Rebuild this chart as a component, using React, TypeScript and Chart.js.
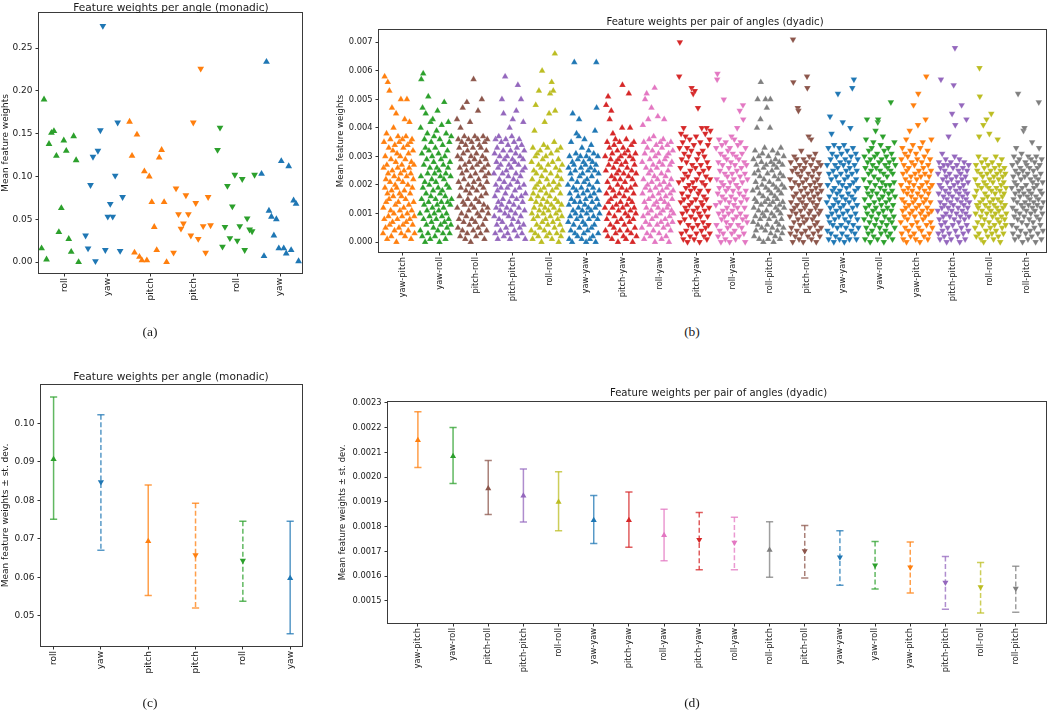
import React, { useEffect, useRef } from 'react';
import { Chart, registerables } from 'chart.js';

Chart.register(...registerables);
Chart.defaults.font.family = "'DejaVu Sans', sans-serif";
Chart.defaults.color = '#1a1a1a';

const C = {
  blue: '#1f77b4', orange: '#ff7f0e', green: '#2ca02c', red: '#d62728', purple: '#9467bd',
  brown: '#8c564b', pink: '#e377c2', gray: '#7f7f7f', olive: '#bcbd22',
};

// ---------- monadic (a) / (c) ----------
const monadicLabels = ['roll', 'yaw', 'pitch', 'pitch', 'roll', 'yaw'];
const monadicColors = [C.green, C.blue, C.orange, C.orange, C.green, C.blue];
const monadicDown = [false, true, false, true, true, false];

const aRollUp = [0.016, 0.190, 0.003, 0.138, 0.151, 0.153, 0.124, 0.035, 0.063, 0.142, 0.130, 0.027, 0.012, 0.147, 0.119, 0.000];
const aYawDown = [0.031, 0.016, 0.090, 0.123, 0.001, 0.130, 0.154, 0.276, 0.014, 0.053, 0.068, 0.053, 0.101, 0.163, 0.013, 0.076];
const aPitchUp = [0.164, 0.124, 0.011, 0.149, 0.006, 0.002, 0.106, 0.002, 0.100, 0.070, 0.041, 0.014, 0.122, 0.131, 0.070, 0.000];
const aPitchDown = [0.011, 0.086, 0.056, 0.039, 0.045, 0.078, 0.056, 0.031, 0.163, 0.069, 0.027, 0.226, 0.042, 0.011, 0.076, 0.043];
const aRollDown = [0.131, 0.157, 0.018, 0.041, 0.089, 0.028, 0.065, 0.102, 0.025, 0.042, 0.097, 0.014, 0.051, 0.038, 0.036, 0.102];
const aYawUp = [0.103, 0.007, 0.234, 0.060, 0.053, 0.031, 0.050, 0.016, 0.118, 0.016, 0.010, 0.112, 0.014, 0.072, 0.068, 0.001];
const aGroups = [aRollUp, aYawDown, aPitchUp, aPitchDown, aRollDown, aYawUp];
const aYTicks = ['0.00', '0.05', '0.10', '0.15', '0.20', '0.25'];

const cMeans = [0.0907, 0.0848, 0.0694, 0.0658, 0.0644, 0.0598];
const cUpper = [0.1069, 0.1023, 0.0840, 0.0793, 0.0746, 0.0746];
const cLower = [0.0751, 0.0671, 0.0553, 0.0521, 0.0538, 0.0454];
const cYTicks = ['0.05', '0.06', '0.07', '0.08', '0.09', '0.10'];

// ---------- dyadic (b) / (d) ----------
const dyadicLabels = ['yaw-pitch', 'yaw-roll', 'pitch-roll', 'pitch-pitch', 'roll-roll', 'yaw-yaw', 'pitch-yaw', 'roll-yaw',
  'pitch-yaw', 'roll-yaw', 'roll-pitch', 'pitch-roll', 'yaw-yaw', 'yaw-roll', 'yaw-pitch', 'pitch-pitch', 'roll-roll', 'roll-pitch'];
const dyadicColors = [C.orange, C.green, C.brown, C.purple, C.olive, C.blue, C.red, C.pink,
  C.red, C.pink, C.gray, C.brown, C.blue, C.green, C.orange, C.purple, C.olive, C.gray];
const dyadicDown = [false, false, false, false, false, false, false, false,
  true, true, false, true, true, true, true, true, true, true];

// (b) values in units of 1e-4
const bYawPitchUp = [3, 12, 26, 35, 8, 58, 19, 30, 5, 22, 14, 38, 27, 1, 17, 56, 24, 9, 33, 15, 53, 6, 21, 36, 11, 29, 2, 18, 47, 25, 7, 32, 16, 40, 10, 23, 4, 34, 20, 13, 28, 45, 0, 19, 31, 8, 26, 37, 14, 22, 5, 35, 17, 11, 30, 24, 50, 3, 16, 27, 9, 36, 21, 6, 33, 12, 25, 18, 43, 2, 29, 15, 37, 7, 23, 50, 10, 34, 20, 4, 31, 13, 26, 42, 8, 17, 35, 24, 1, 28, 11, 36, 19, 6, 32, 22, 14, 27, 9, 3];
const bYawRollUp = [10, 4, 40, 23, 57, 15, 31, 2, 47, 19, 59, 8, 27, 13, 36, 21, 0, 33, 45, 17, 6, 29, 11, 38, 24, 3, 51, 14, 32, 20, 9, 26, 1, 42, 16, 35, 7, 22, 30, 12, 43, 18, 5, 28, 37, 10, 24, 2, 33, 15, 21, 8, 39, 26, 13, 46, 4, 19, 31, 11, 25, 0, 36, 17, 23, 6, 29, 14, 41, 9, 18, 34, 3, 27, 12, 22, 49, 7, 30, 16, 1, 24, 38, 10, 20, 5, 32, 14, 26, 42, 8, 19, 35, 3, 28, 13, 23, 6, 37, 15];
const bPitchRollUp = [43, 12, 30, 5, 36, 21, 8, 33, 16, 26, 2, 40, 19, 29, 10, 35, 24, 4, 47, 14, 31, 7, 22, 37, 13, 27, 1, 34, 18, 9, 25, 49, 3, 32, 15, 20, 36, 11, 28, 6, 17, 42, 23, 0, 30, 13, 35, 8, 26, 19, 33, 4, 57, 21, 12, 29, 37, 7, 24, 15, 2, 31, 18, 27, 10, 36, 46, 5, 22, 14, 34, 9, 28, 20, 3, 33, 16, 25, 50, 11, 30, 6, 37, 19, 13, 26, 1, 35, 23, 8, 29, 17, 32, 4, 21, 36, 12, 27, 10, 24];
const bPitchPitchUp = [24, 9, 31, 16, 3, 36, 20, 12, 28, 6, 33, 18, 1, 26, 14, 37, 8, 22, 30, 11, 4, 27, 19, 35, 13, 50, 7, 24, 15, 32, 45, 2, 21, 29, 10, 58, 17, 36, 5, 25, 12, 30, 19, 3, 34, 23, 9, 27, 14, 40, 1, 20, 32, 11, 26, 6, 37, 16, 29, 43, 8, 22, 13, 35, 4, 28, 18, 10, 31, 24, 46, 15, 33, 2, 21, 55, 7, 27, 12, 36, 19, 5, 30, 23, 9, 50, 16, 34, 3, 25, 14, 29, 42, 6, 20, 32, 11, 26, 1, 17];
const bRollRollUp = [15, 4, 28, 10, 22, 1, 33, 17, 8, 25, 12, 39, 19, 3, 30, 48, 14, 24, 6, 20, 31, 9, 16, 2, 27, 53, 11, 21, 5, 32, 18, 13, 26, 0, 23, 60, 7, 29, 15, 10, 34, 19, 4, 42, 12, 25, 8, 30, 17, 2, 22, 14, 33, 6, 27, 11, 20, 45, 3, 16, 52, 9, 24, 31, 13, 56, 1, 18, 28, 7, 53, 21, 12, 35, 5, 66, 46, 15, 26, 10, 19, 3, 32, 23, 8, 14, 29, 0, 20, 11, 25, 6, 17, 33, 2, 22, 13, 9, 27, 4];
const bYawYawUp = [20, 7, 26, 13, 1, 30, 17, 9, 24, 4, 35, 15, 22, 0, 28, 45, 11, 19, 6, 27, 63, 14, 3, 25, 10, 31, 18, 38, 8, 21, 2, 29, 16, 12, 37, 43, 5, 23, 14, 30, 9, 26, 19, 1, 33, 11, 24, 7, 17, 28, 3, 21, 36, 13, 6, 27, 15, 0, 30, 10, 22, 18, 4, 25, 12, 32, 8, 20, 29, 1, 16, 26, 11, 34, 5, 23, 14, 28, 2, 19, 9, 31, 17, 6, 25, 39, 12, 0, 27, 63, 47, 15, 21, 8, 30, 3, 24, 13, 18, 10];
const bPitchYawUp = [12, 30, 4, 25, 48, 17, 8, 35, 21, 2, 51, 14, 27, 10, 33, 43, 19, 6, 29, 15, 46, 23, 1, 31, 12, 38, 18, 26, 5, 34, 9, 22, 16, 36, 3, 28, 13, 24, 7, 32, 20, 0, 29, 11, 25, 17, 35, 4, 22, 14, 30, 8, 27, 19, 40, 55, 12, 33, 2, 24, 16, 6, 31, 21, 10, 28, 1, 36, 18, 13, 26, 4, 32, 9, 23, 52, 15, 7, 30, 40, 11, 19, 3, 34, 25, 14, 22, 0, 29, 8, 17, 35, 12, 27, 5, 20, 31, 10, 24, 2];
const bRollYawUp = [5, 28, 17, 41, 9, 22, 35, 1, 14, 31, 50, 19, 7, 26, 12, 52, 3, 33, 20, 10, 43, 24, 15, 36, 6, 29, 18, 2, 25, 11, 47, 21, 8, 32, 16, 27, 4, 37, 13, 23, 54, 0, 30, 19, 9, 34, 14, 26, 6, 22, 44, 12, 31, 17, 3, 28, 20, 10, 35, 15, 7, 24, 1, 33, 18, 27, 11, 36, 5, 21, 43, 14, 29, 8, 23, 16, 2, 30, 19, 12, 34, 6, 25, 13, 31, 0, 20, 9, 27, 17, 4, 35, 22, 11, 28, 15, 7, 32, 18, 10];
const bPitchYawDown = [21, 58, 33, 70, 7, 26, 14, 38, 3, 29, 17, 10, 35, 22, 1, 40, 15, 31, 8, 24, 12, 37, 19, 4, 28, 11, 33, 0, 23, 16, 6, 30, 20, 13, 36, 2, 25, 18, 9, 32, 54, 14, 27, 5, 21, 52, 11, 34, 1, 19, 53, 8, 26, 15, 37, 3, 22, 29, 12, 6, 47, 17, 31, 10, 24, 0, 18, 35, 9, 27, 14, 4, 40, 21, 13, 32, 7, 25, 16, 2, 30, 11, 20, 38, 5, 23, 15, 40, 1, 28, 9, 34, 18, 6, 26, 12, 36, 3, 22, 39];
const bRollYawDown = [13, 33, 6, 22, 57, 59, 17, 2, 28, 10, 36, 19, 4, 25, 14, 31, 0, 21, 8, 34, 16, 27, 11, 3, 20, 50, 30, 9, 24, 15, 1, 35, 18, 7, 29, 12, 23, 5, 32, 19, 10, 26, 14, 0, 33, 21, 6, 28, 16, 37, 3, 24, 11, 31, 18, 8, 22, 13, 36, 4, 27, 15, 1, 30, 20, 9, 25, 40, 12, 34, 6, 19, 29, 2, 17, 46, 23, 10, 35, 14, 26, 5, 31, 21, 8, 48, 43, 16, 3, 28, 12, 24, 0, 33, 18, 9, 27, 15, 7, 22];
const bRollPitchUp = [18, 7, 29, 12, 2, 24, 15, 32, 9, 21, 4, 27, 14, 40, 19, 50, 6, 25, 11, 30, 1, 17, 23, 8, 43, 56, 13, 28, 5, 20, 31, 10, 16, 0, 26, 22, 9, 33, 14, 4, 50, 19, 27, 11, 47, 6, 24, 15, 1, 30, 18, 8, 21, 13, 40, 50, 3, 28, 17, 10, 25, 5, 32, 14, 20, 0, 27, 9, 23, 16, 2, 29, 12, 19, 7, 26, 15, 4, 31, 11, 22, 18, 6, 28, 13, 1, 24, 10, 33, 17, 8, 20, 3, 27, 14, 23, 5, 30, 12, 19];
const bPitchRollDown = [9, 22, 3, 28, 14, 5, 19, 11, 25, 0, 71, 56, 16, 7, 30, 12, 21, 2, 26, 10, 17, 29, 4, 13, 24, 47, 8, 46, 20, 1, 15, 27, 6, 23, 11, 18, 32, 3, 25, 14, 9, 21, 0, 29, 16, 7, 26, 12, 19, 4, 28, 13, 22, 8, 58, 54, 17, 2, 24, 37, 10, 30, 15, 5, 20, 11, 27, 36, 1, 18, 23, 8, 14, 29, 3, 25, 16, 9, 21, 6, 31, 12, 19, 0, 26, 13, 7, 22, 17, 4, 28, 10, 24, 15, 2, 20, 11, 27, 5, 18];
const bYawYawDown = [14, 27, 4, 20, 9, 33, 1, 24, 16, 7, 44, 12, 29, 3, 22, 38, 10, 31, 18, 6, 25, 13, 0, 34, 19, 8, 27, 15, 2, 23, 11, 30, 17, 5, 26, 52, 14, 21, 9, 33, 1, 18, 28, 12, 24, 6, 31, 16, 3, 20, 42, 10, 27, 13, 34, 0, 22, 8, 29, 15, 5, 25, 19, 2, 32, 11, 23, 17, 7, 28, 14, 1, 26, 20, 40, 9, 30, 4, 16, 24, 54, 12, 33, 6, 21, 57, 15, 27, 3, 18, 10, 31, 22, 1, 25, 13, 8, 29, 19, 5];
const bYawRollDown = [22, 8, 30, 15, 1, 26, 12, 36, 5, 19, 43, 10, 28, 17, 3, 24, 32, 13, 7, 21, 0, 29, 16, 25, 9, 33, 4, 18, 27, 11, 35, 2, 23, 14, 30, 6, 20, 39, 12, 26, 8, 17, 31, 1, 42, 43, 22, 10, 28, 15, 5, 25, 19, 34, 3, 13, 29, 7, 21, 16, 37, 11, 24, 0, 32, 18, 9, 27, 4, 20, 14, 30, 6, 23, 12, 26, 2, 33, 17, 8, 28, 15, 20, 3, 25, 49, 11, 31, 7, 18, 1, 24, 13, 29, 9, 21, 35, 5, 16, 27];
const bYawPitchDown = [7, 20, 29, 3, 15, 33, 11, 24, 1, 18, 27, 9, 14, 31, 5, 22, 12, 36, 0, 25, 17, 8, 30, 19, 4, 26, 13, 21, 39, 10, 32, 2, 23, 16, 28, 6, 18, 11, 34, 14, 48, 20, 3, 27, 9, 24, 15, 1, 31, 12, 22, 7, 29, 17, 41, 52, 5, 25, 13, 19, 0, 33, 10, 23, 16, 4, 28, 20, 11, 35, 8, 26, 14, 2, 30, 18, 24, 9, 43, 15, 58, 6, 21, 12, 32, 1, 27, 17, 10, 23, 3, 19, 29, 14, 7, 25, 36, 11, 20, 5];
const bPitchPitchDown = [11, 24, 3, 17, 28, 8, 20, 1, 14, 26, 57, 6, 19, 12, 31, 4, 22, 9, 16, 27, 2, 13, 25, 7, 18, 29, 10, 23, 0, 15, 21, 5, 27, 12, 37, 17, 3, 24, 9, 19, 14, 28, 1, 22, 11, 45, 16, 6, 26, 13, 55, 20, 8, 30, 68, 41, 4, 18, 23, 10, 27, 15, 2, 21, 12, 25, 7, 17, 29, 0, 19, 9, 24, 14, 5, 48, 22, 11, 16, 26, 3, 20, 13, 28, 8, 18, 1, 23, 10, 15, 43, 6, 25, 17, 12, 21, 4, 27, 9, 14];
const bRollRollDown = [16, 5, 22, 10, 27, 2, 18, 13, 25, 7, 20, 12, 30, 3, 37, 61, 51, 14, 24, 9, 1, 19, 28, 11, 6, 23, 15, 41, 0, 21, 26, 8, 17, 13, 29, 4, 20, 43, 10, 24, 16, 2, 27, 12, 19, 7, 38, 22, 14, 5, 25, 11, 45, 18, 3, 28, 9, 21, 15, 1, 23, 13, 6, 26, 17, 10, 30, 4, 19, 12, 24, 8, 36, 15, 2, 22, 11, 27, 7, 18, 0, 25, 14, 20, 9, 29, 5, 16, 23, 12, 3, 21, 17, 26, 8, 13, 24, 6, 19, 10];
const bRollPitchDown = [19, 6, 27, 12, 3, 23, 15, 30, 9, 21, 1, 17, 25, 11, 33, 5, 20, 14, 28, 8, 52, 24, 2, 18, 29, 10, 16, 26, 4, 22, 13, 31, 7, 19, 0, 25, 12, 39, 17, 9, 40, 23, 14, 28, 3, 20, 11, 27, 6, 16, 24, 1, 30, 13, 18, 8, 26, 15, 4, 22, 10, 29, 17, 2, 35, 12, 21, 7, 25, 14, 19, 5, 28, 11, 23, 0, 16, 30, 9, 20, 13, 26, 3, 22, 15, 49, 33, 8, 27, 18, 6, 24, 12, 1, 29, 17, 10, 21, 4, 14];
const bGroups = [bYawPitchUp, bYawRollUp, bPitchRollUp, bPitchPitchUp, bRollRollUp, bYawYawUp, bPitchYawUp, bRollYawUp,
  bPitchYawDown, bRollYawDown, bRollPitchUp, bPitchRollDown, bYawYawDown, bYawRollDown, bYawPitchDown, bPitchPitchDown, bRollRollDown, bRollPitchDown];
const bUnit = 1e-4;
const bYTicks = ['0.000', '0.001', '0.002', '0.003', '0.004', '0.005', '0.006', '0.007'];

const dMeans = [0.002149, 0.002085, 0.001954, 0.001925, 0.001900, 0.001826, 0.001826, 0.001766, 0.001747, 0.001736, 0.001706, 0.001702, 0.001677, 0.001644, 0.001636, 0.001575, 0.001556, 0.001550];
const dUpper = [0.002265, 0.002201, 0.002068, 0.002033, 0.002022, 0.001926, 0.001940, 0.001871, 0.001857, 0.001838, 0.001820, 0.001805, 0.001784, 0.001740, 0.001738, 0.001680, 0.001655, 0.001640];
const dLower = [0.002039, 0.001975, 0.001849, 0.001819, 0.001784, 0.001732, 0.001717, 0.001663, 0.001626, 0.001626, 0.001596, 0.001593, 0.001564, 0.001548, 0.001532, 0.001467, 0.001451, 0.001454];
const dYTicks = ['0.0015', '0.0016', '0.0017', '0.0018', '0.0019', '0.0020', '0.0021', '0.0022', '0.0023'];

// ---------- helpers ----------
function rgba(hex: string, a: number) {
  const n = parseInt(hex.slice(1), 16);
  return `rgba(${(n >> 16) & 255},${(n >> 8) & 255},${n & 255},${a})`;
}

const framePlugin = {
  id: 'frame',
  afterDraw(chart: any) {
    const { ctx, chartArea: a } = chart;
    ctx.save();
    ctx.strokeStyle = '#3a3a3a';
    ctx.lineWidth = 1;
    const l = Math.round(a.left) - 0.5, t = Math.round(a.top) - 0.5;
    const r = Math.round(a.right) + 0.5, b = Math.round(a.bottom) + 0.5;
    ctx.strokeRect(l, t, r - l, b - t);
    ctx.restore();
  },
};

const errorBarPlugin = {
  id: 'errorBars',
  beforeDatasetsDraw(chart: any, _args: any, opts: any) {
    if (!opts || !opts.upper) return;
    const { ctx } = chart;
    const xs = chart.scales.x, ys = chart.scales.y;
    ctx.save();
    ctx.lineWidth = 1.5;
    opts.upper.forEach((hi: number, i: number) => {
      const x = xs.getPixelForValue(i);
      const yh = ys.getPixelForValue(hi);
      const yl = ys.getPixelForValue(opts.lower[i]);
      ctx.strokeStyle = rgba(opts.colors[i], 0.75);
      ctx.setLineDash(opts.dashed[i] ? [5, 2.6] : []);
      ctx.beginPath();
      ctx.moveTo(x, yh);
      ctx.lineTo(x, yl);
      ctx.stroke();
      ctx.setLineDash([]);
      ctx.beginPath();
      ctx.moveTo(x - 3.6, yh); ctx.lineTo(x + 3.6, yh);
      ctx.moveTo(x - 3.6, yl); ctx.lineTo(x + 3.6, yl);
      ctx.stroke();
    });
    ctx.restore();
  },
};

type AxisCfg = {
  xMin: number; xMax: number; yMin: number; yMax: number;
  xLabels: string[]; yTicks: string[]; yTitle: string;
  yAxisW: number; xAxisH: number; padRight: number;
  tickSize: number; titleSize: number; titlePad: number;
};

function makeOptions(c: AxisCfg, extraPlugins: any = {}) {
  const gridCfg = { display: true, drawOnChartArea: false, drawTicks: true, tickLength: 3.5, color: '#333', lineWidth: 1 };
  return {
    responsive: false,
    animation: false,
    events: [],
    layout: { padding: { top: 10, right: c.padRight, left: 0, bottom: 0 } },
    plugins: { legend: { display: false }, tooltip: { enabled: false }, ...extraPlugins },
    scales: {
      x: {
        type: 'linear', position: 'bottom', min: c.xMin, max: c.xMax, bounds: 'data',
        grid: gridCfg, border: { display: false },
        afterBuildTicks: (s: any) => { s.ticks = c.xLabels.map((_, i) => ({ value: i })); },
        afterFit: (s: any) => { s.height = c.xAxisH; },
        ticks: {
          autoSkip: false, minRotation: 90, maxRotation: 90, padding: 1.5,
          font: { size: c.tickSize }, color: '#1a1a1a',
          callback: (_v: any, i: number) => c.xLabels[i],
        },
      },
      y: {
        type: 'linear', position: 'left', min: c.yMin, max: c.yMax, bounds: 'data',
        grid: gridCfg, border: { display: false },
        afterBuildTicks: (s: any) => { s.ticks = c.yTicks.map((t) => ({ value: parseFloat(t) })); },
        afterFit: (s: any) => { s.width = c.yAxisW; },
        ticks: {
          autoSkip: false, padding: 3, font: { size: c.tickSize }, color: '#1a1a1a',
          callback: (_v: any, i: number) => c.yTicks[i],
        },
        title: {
          display: true, text: c.yTitle, font: { size: c.titleSize }, color: '#1a1a1a',
          padding: { top: c.titlePad, bottom: 0 },
        },
      },
    },
  };
}

function scatterGroups(groups: number[][], colors: string[], down: boolean[], gap: number, unit: number, radius: number, border: boolean) {
  return groups.map((vals, k) => ({
    type: 'scatter',
    data: vals.map((v, j) => ({ x: -0.54 + gap * k + (0.86 * j) / (vals.length - 1), y: v * unit })),
    pointStyle: 'triangle',
    pointRotation: down[k] ? 180 : 0,
    pointRadius: radius,
    pointBackgroundColor: colors[k],
    pointBorderColor: border ? 'rgba(255,255,255,0.45)' : colors[k],
    pointBorderWidth: border ? 0.4 : 0,
  }));
}

function meanDataset(means: number[], colors: string[], down: boolean[], radius: number) {
  return [{
    type: 'scatter',
    data: means.map((m, i) => ({ x: i, y: m })),
    pointStyle: 'triangle',
    pointRotation: down.map((d) => (d ? 180 : 0)),
    pointRadius: radius,
    pointBackgroundColor: colors,
    pointBorderColor: colors,
    pointBorderWidth: 0,
  }];
}

function Panel({ left, top, width, height, build }: { left: number; top: number; width: number; height: number; build: () => any }) {
  const ref = useRef<HTMLCanvasElement>(null);
  useEffect(() => {
    const chart = new Chart(ref.current as HTMLCanvasElement, build());
    return () => chart.destroy();
  }, []);
  return <canvas ref={ref} width={width} height={height} style={{ position: 'absolute', left, top, width, height, display: 'block' }} />;
}

const textStyle = (x: number, y: number, size: number, serif = false): React.CSSProperties => ({
  position: 'absolute', left: x, top: y, transform: 'translate(-50%, -50%)', whiteSpace: 'nowrap',
  fontSize: size, lineHeight: 1, color: '#1a1a1a',
  fontFamily: serif ? "'Liberation Serif', 'DejaVu Serif', serif" : "'DejaVu Sans', sans-serif",
});

export default function App() {
  const buildA = () => ({
    type: 'scatter',
    data: { datasets: scatterGroups(aGroups, monadicColors, monadicDown, 1.022, 1, 3.9, false) },
    options: makeOptions({
      xMin: -0.6, xMax: 5.51, yMin: -0.0128, yMax: 0.291, xLabels: monadicLabels, yTicks: aYTicks,
      yTitle: 'Mean feature weights', yAxisW: 39, xAxisH: 40, padRight: 3, tickSize: 9, titleSize: 9, titlePad: 0,
    }),
    plugins: [framePlugin],
  });
  const buildB = () => ({
    type: 'scatter',
    data: { datasets: scatterGroups(bGroups, dyadicColors, dyadicDown, 1.008, bUnit, 3.8, true) },
    options: makeOptions({
      xMin: -0.65, xMax: 17.52, yMin: -0.00035, yMax: 0.00743, xLabels: dyadicLabels, yTicks: bYTicks,
      yTitle: 'Mean feature weights', yAxisW: 45, xAxisH: 60, padRight: 1, tickSize: 8.3, titleSize: 8.5, titlePad: 2,
    }),
    plugins: [framePlugin],
  });
  const buildC = () => ({
    type: 'scatter',
    data: { datasets: meanDataset(cMeans, monadicColors, monadicDown, 3.6) },
    options: makeOptions({
      xMin: -0.266, xMax: 5.25, yMin: 0.0422, yMax: 0.110, xLabels: monadicLabels, yTicks: cYTicks,
      yTitle: 'Mean feature weights \u00b1 st. dev.', yAxisW: 41, xAxisH: 50, padRight: 3, tickSize: 9, titleSize: 9, titlePad: 0.5,
    }, { errorBars: { upper: cUpper, lower: cLower, colors: monadicColors, dashed: monadicDown } }),
    plugins: [framePlugin, errorBarPlugin],
  });
  const buildD = () => ({
    type: 'scatter',
    data: { datasets: meanDataset(dMeans, dyadicColors, dyadicDown, 3.5) },
    options: makeOptions({
      xMin: -0.85, xMax: 17.86, yMin: 0.001411, yMax: 0.002304, xLabels: dyadicLabels, yTicks: dYTicks,
      yTitle: 'Mean feature weights \u00b1 st. dev.', yAxisW: 51, xAxisH: 60, padRight: 1, tickSize: 8.3, titleSize: 8.5, titlePad: 1,
    }, { errorBars: { upper: dUpper, lower: dLower, colors: dyadicColors, dashed: dyadicDown } }),
    plugins: [framePlugin, errorBarPlugin],
  });

  return (
    <div style={{ position: 'absolute', left: 0, top: 0, width: 1050, height: 710, background: '#fff', overflow: 'hidden' }}>
      <Panel left={0} top={3} width={306} height={310} build={buildA} />
      <Panel left={334} top={20} width={716} height={292} build={buildB} />
      <Panel left={0} top={375} width={306} height={321} build={buildC} />
      <Panel left={337} top={392} width={713} height={291} build={buildD} />
      <div style={textStyle(171, 6.5, 10.6)}>Feature weights per angle (monadic)</div>
      <div style={textStyle(715, 22, 10.1)}>Feature weights per pair of angles (dyadic)</div>
      <div style={textStyle(171, 376, 10.6)}>Feature weights per angle (monadic)</div>
      <div style={textStyle(718.5, 393, 10.1)}>Feature weights per pair of angles (dyadic)</div>
      <div style={textStyle(150, 332, 13.5, true)}>(a)</div>
      <div style={textStyle(692, 332, 13.5, true)}>(b)</div>
      <div style={textStyle(150, 703, 13.5, true)}>(c)</div>
      <div style={textStyle(692, 703, 13.5, true)}>(d)</div>
    </div>
  );
}
